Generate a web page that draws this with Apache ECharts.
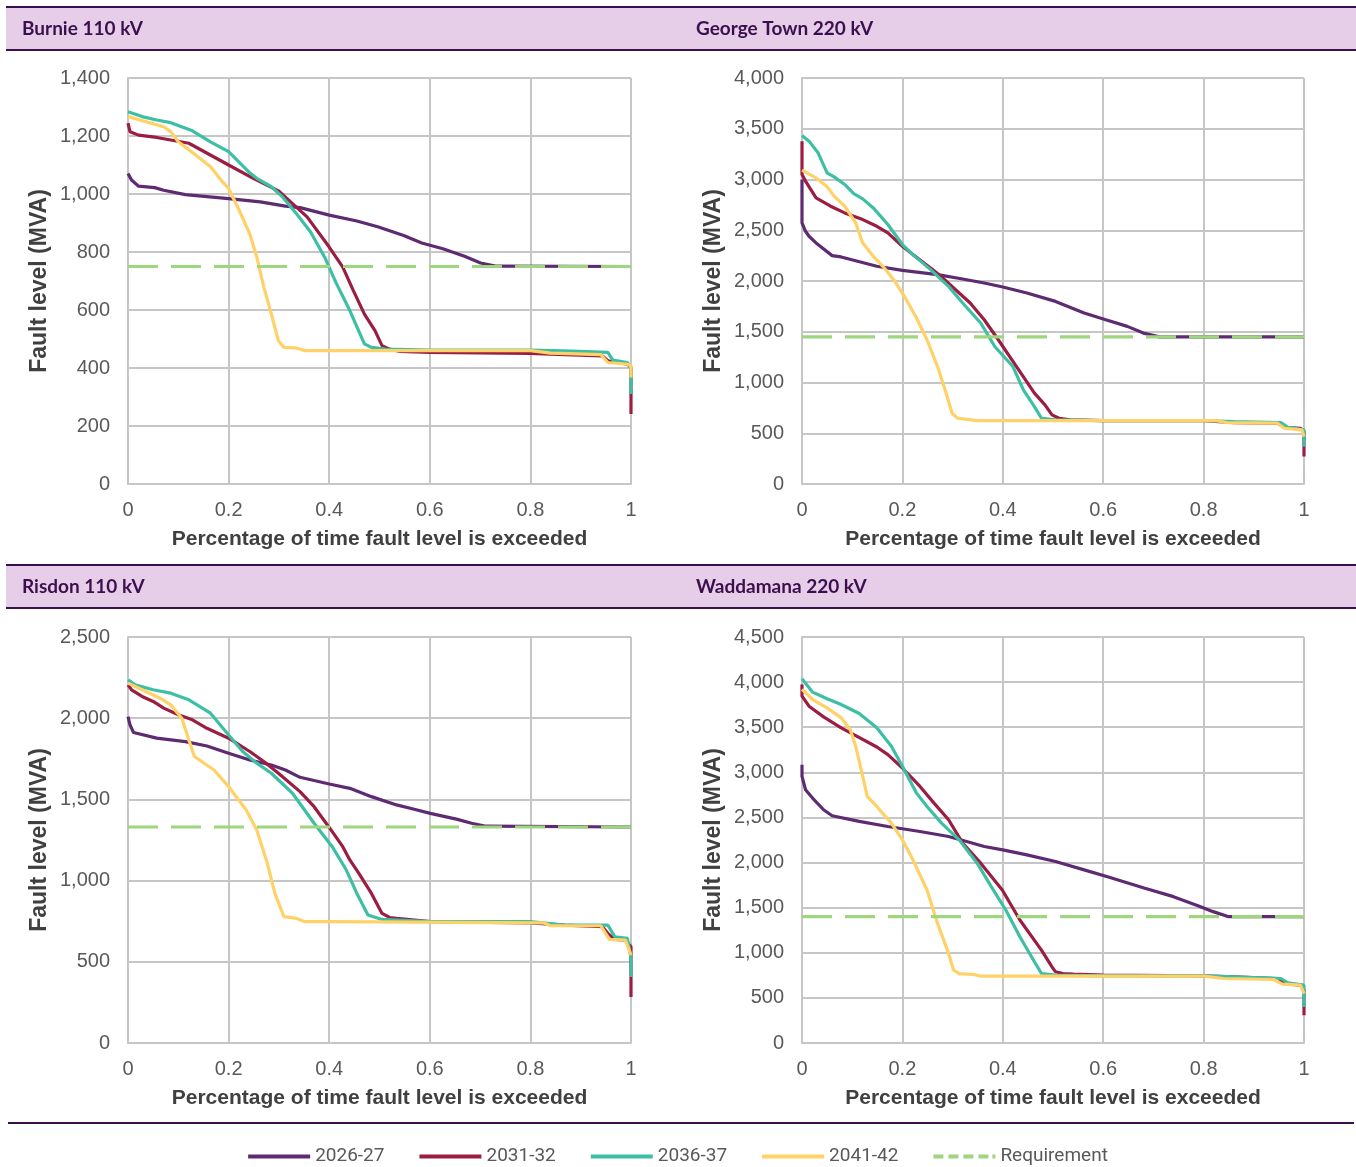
<!DOCTYPE html>
<html>
<head>
<meta charset="utf-8">
<script src="https://cdn.jsdelivr.net/npm/echarts@6/dist/echarts.min.js"></script>
<style>
  html, body { margin: 0; padding: 0; background: #fff; }
  #chart { width: 1356px; height: 1167px; }
</style>
</head>
<body>
<div id="chart"></div>
<script>
// series names
var seriesNames = ['2026-27', '2031-32', '2036-37', '2041-42', 'Requirement'];
var panelTitles = ['Burnie 110 kV', 'George Town 220 kV', 'Risdon 110 kV', 'Waddamana 220 kV'];
var yMax = [1400, 4000, 2500, 4500];
var yStep = [200, 500, 500, 500];

// Burnie 110 kV  ([fraction of time, MVA])
var burnie2026 = [[0,1071],[0.007,1048],[0.021,1027],[0.053,1022],[0.071,1013],[0.114,998],[0.2,984],[0.263,973],[0.313,958],[0.342,953],[0.4,927],[0.455,907],[0.498,886],[0.548,857],[0.584,831],[0.626,811],[0.669,785],[0.701,762],[0.733,751],[1,750]];
var burnie2031 = [[0,1244],[0.004,1215],[0.021,1203],[0.057,1195],[0.121,1175],[0.2,1100],[0.249,1054],[0.299,1011],[0.327,967],[0.356,921],[0.4,817],[0.427,748],[0.448,667],[0.47,586],[0.491,529],[0.505,477],[0.52,465],[0.541,457],[0.6,454],[0.8,450],[0.868,446],[0.943,442],[0.954,425],[0.993,413],[1,402],[1,241]];
var burnie2036 = [[0,1284],[0.028,1267],[0.057,1255],[0.085,1246],[0.128,1218],[0.164,1180],[0.2,1146],[0.242,1073],[0.256,1054],[0.285,1025],[0.306,992],[0.335,932],[0.363,869],[0.391,782],[0.413,696],[0.441,598],[0.47,483],[0.484,471],[0.512,465],[0.6,462],[0.8,462],[0.868,459],[0.954,454],[0.964,427],[0.993,419],[1,400],[1,310]];
var burnie2041 = [[0,1267],[0.028,1253],[0.071,1232],[0.085,1215],[0.1,1180],[0.135,1134],[0.164,1094],[0.185,1048],[0.2,1019],[0.221,944],[0.242,863],[0.256,783],[0.27,679],[0.285,586],[0.299,494],[0.31,471],[0.335,469],[0.352,460],[0.4,460],[0.8,460],[0.84,451],[0.94,446],[0.954,419],[0.993,413],[1,408],[1,367]];
var burnieReq = 750;

// George Town 220 kV
var george2026 = [[0,3000],[0,2572],[0.007,2490],[0.014,2441],[0.028,2375],[0.06,2250],[0.078,2237],[0.149,2145],[0.2,2105],[0.27,2063],[0.32,2020],[0.363,1980],[0.4,1941],[0.448,1882],[0.505,1799],[0.562,1684],[0.605,1618],[0.648,1553],[0.68,1487],[0.712,1450],[1,1450]];
var george2031 = [[0,3378],[0,3049],[0.007,2984],[0.028,2819],[0.057,2737],[0.085,2671],[0.121,2605],[0.149,2539],[0.171,2474],[0.2,2342],[0.221,2260],[0.256,2128],[0.277,2046],[0.306,1914],[0.335,1783],[0.363,1618],[0.391,1421],[0.427,1158],[0.463,895],[0.484,780],[0.498,681],[0.512,648],[0.534,632],[0.6,625],[0.8,625],[0.861,605],[0.947,599],[0.961,559],[0.993,549],[1,516],[1,270]];
var george2036 = [[0,3434],[0.014,3378],[0.032,3263],[0.05,3066],[0.064,3026],[0.085,2951],[0.103,2862],[0.121,2809],[0.142,2720],[0.171,2556],[0.2,2359],[0.221,2260],[0.256,2112],[0.292,1947],[0.32,1783],[0.356,1586],[0.384,1355],[0.42,1158],[0.441,928],[0.463,763],[0.477,648],[0.505,632],[0.6,625],[0.8,625],[0.861,615],[0.954,605],[0.968,559],[1,533],[1,368]];
var george2041 = [[0,3092],[0.028,3016],[0.05,2928],[0.064,2836],[0.085,2737],[0.107,2572],[0.121,2375],[0.142,2243],[0.164,2128],[0.185,1997],[0.206,1832],[0.228,1635],[0.249,1421],[0.27,1158],[0.285,928],[0.299,697],[0.31,648],[0.349,625],[0.4,625],[0.826,625],[0.847,605],[0.947,599],[0.961,549],[0.996,533],[1,467]];
var georgeReq = 1450;

// Risdon 110 kV
var risdon2026 = [[0,2010],[0.004,1959],[0.011,1912],[0.057,1877],[0.114,1856],[0.157,1829],[0.2,1784],[0.242,1743],[0.285,1712],[0.313,1681],[0.342,1636],[0.37,1616],[0.4,1595],[0.441,1568],[0.484,1517],[0.534,1466],[0.569,1439],[0.601,1414],[0.655,1377],[0.683,1353],[0.712,1335],[1,1330]];
var risdon2031 = [[0,2205],[0.007,2175],[0.028,2134],[0.05,2103],[0.071,2062],[0.1,2021],[0.128,1990],[0.157,1938],[0.2,1877],[0.242,1795],[0.27,1733],[0.299,1661],[0.342,1548],[0.37,1455],[0.399,1332],[0.427,1209],[0.441,1127],[0.459,1044],[0.484,921],[0.505,798],[0.52,773],[0.534,767],[0.601,747],[0.8,740],[0.868,726],[0.943,716],[0.954,675],[0.968,638],[0.989,634],[1,592],[1,284]];
var risdon2036 = [[0,2236],[0.014,2205],[0.05,2175],[0.085,2154],[0.121,2113],[0.164,2031],[0.2,1897],[0.228,1795],[0.256,1723],[0.285,1661],[0.327,1538],[0.37,1353],[0.406,1209],[0.434,1065],[0.455,921],[0.477,788],[0.505,761],[0.601,747],[0.8,747],[0.868,726],[0.954,726],[0.968,654],[0.993,644],[1,520],[1,407]];
var risdon2041 = [[0,2216],[0.028,2175],[0.064,2123],[0.085,2082],[0.107,2000],[0.121,1866],[0.132,1764],[0.171,1681],[0.2,1579],[0.235,1435],[0.256,1312],[0.277,1106],[0.292,921],[0.31,778],[0.335,767],[0.352,747],[0.4,747],[0.826,740],[0.84,722],[0.94,722],[0.957,638],[0.989,634],[1,541]];
var risdonReq = 1330;

// Waddamana 220 kV
var wadda2026 = [[0,3085],[0,2956],[0.007,2807],[0.021,2715],[0.043,2585],[0.06,2519],[0.114,2456],[0.171,2400],[0.235,2344],[0.292,2289],[0.335,2222],[0.363,2178],[0.4,2141],[0.448,2085],[0.505,2011],[0.562,1919],[0.612,1837],[0.683,1715],[0.74,1622],[0.79,1519],[0.819,1456],[0.85,1400],[1,1400]];
var wadda2031 = [[0,3974],[0,3844],[0.014,3733],[0.043,3615],[0.078,3493],[0.107,3407],[0.149,3281],[0.171,3196],[0.2,3048],[0.235,2844],[0.263,2659],[0.292,2474],[0.32,2215],[0.356,1993],[0.399,1696],[0.434,1363],[0.477,1030],[0.498,844],[0.505,789],[0.52,770],[0.541,763],[0.6,752],[0.8,745],[0.861,733],[0.947,715],[0.961,659],[0.993,641],[1,585],[1,307]];
var wadda2036 = [[0,4037],[0.021,3889],[0.05,3815],[0.078,3752],[0.114,3652],[0.149,3493],[0.178,3289],[0.2,3067],[0.228,2770],[0.249,2622],[0.278,2437],[0.313,2252],[0.349,1993],[0.377,1733],[0.406,1474],[0.434,1178],[0.463,900],[0.477,770],[0.505,752],[0.6,745],[0.8,745],[0.861,733],[0.954,715],[0.968,667],[1,641],[1,400]];
var wadda2041 = [[0,3919],[0.021,3807],[0.05,3715],[0.078,3604],[0.096,3474],[0.107,3289],[0.121,2956],[0.13,2733],[0.149,2622],[0.178,2437],[0.2,2252],[0.221,2030],[0.249,1696],[0.27,1326],[0.292,993],[0.302,807],[0.313,770],[0.342,759],[0.356,741],[0.4,741],[0.8,741],[0.84,715],[0.94,704],[0.957,652],[0.993,641],[1,548]];
var waddaReq = 1400;

var panelData = [
  [burnie2026, burnie2031, burnie2036, burnie2041, burnieReq],
  [george2026, george2031, george2036, george2041, georgeReq],
  [risdon2026, risdon2031, risdon2036, risdon2041, risdonReq],
  [wadda2026, wadda2031, wadda2036, wadda2041, waddaReq]
];

var colors = ['#5E2B72', '#9B1D42', '#3DBFA5', '#FFD167', '#9DD67D'];
var gridColor = '#C6C6C6';
var headColor = '#3B0F4E';

var grids = [
  {left: 128, top: 78, width: 503, height: 406},
  {left: 802, top: 78, width: 502, height: 406},
  {left: 128, top: 637, width: 503, height: 406},
  {left: 802, top: 637, width: 502, height: 406}
];

var xAxes = [], yAxes = [], series = [];
grids.forEach(function (g, i) {
  xAxes.push({
    type: 'value', gridIndex: i, min: 0, max: 1, interval: 0.2,
    name: 'Percentage of time fault level is exceeded',
    nameLocation: 'middle', nameGap: 45,
    nameTextStyle: {fontFamily: 'Liberation Sans', fontSize: 21, fontWeight: 'bold', color: '#404040'},
    axisLine: {show: true, lineStyle: {color: gridColor, width: 2}},
    axisTick: {show: false},
    axisLabel: {fontFamily: 'Liberation Sans', fontSize: 20, color: '#595959', margin: 16},
    splitLine: {show: true, lineStyle: {color: gridColor, width: 2}}
  });
  yAxes.push({
    type: 'value', gridIndex: i, min: 0, max: yMax[i], interval: yStep[i],
    name: 'Fault level (MVA)',
    nameLocation: 'middle', nameGap: 77,
    nameTextStyle: {fontFamily: 'Liberation Sans', fontSize: 23, fontWeight: 'bold', color: '#404040'},
    axisLine: {show: true, lineStyle: {color: gridColor, width: 2}},
    axisTick: {show: false},
    axisLabel: {
      fontFamily: 'Liberation Sans', fontSize: 20, color: '#595959', margin: 18,
      formatter: function (v) { return v.toLocaleString('en-US'); }
    },
    splitLine: {show: true, lineStyle: {color: gridColor, width: 2}}
  });
  var d = panelData[i];
  for (var k = 0; k < 4; k++) {
    series.push({
      name: seriesNames[k], type: 'line', xAxisIndex: i, yAxisIndex: i,
      data: d[k], symbol: 'none', clip: false, silent: true,
      lineStyle: {color: colors[k], width: 3.2},
      itemStyle: {color: colors[k]}
    });
  }
  series.push({
    name: 'Requirement', type: 'line', xAxisIndex: i, yAxisIndex: i,
    data: [[0, d[4]], [1, d[4]]], symbol: 'none', clip: false, silent: true,
    lineStyle: {color: colors[4], width: 3.2, type: [30, 13]},
    itemStyle: {color: colors[4]}
  });
});

function headerBar(top) {
  return [
    {type: 'rect', shape: {x: 6, y: top, width: 1350, height: 43}, style: {fill: '#E6CDE8'}, silent: true},
    {type: 'rect', shape: {x: 6, y: top - 1, width: 1350, height: 2}, style: {fill: headColor}, silent: true},
    {type: 'rect', shape: {x: 6, y: top + 42, width: 1350, height: 2}, style: {fill: headColor}, silent: true}
  ];
}
var titleStyle = {fontFamily: 'Lato', fontSize: 19, fontWeight: 'bold', fill: headColor};
var graphics = [].concat(headerBar(7), headerBar(565), [
  {type: 'text', left: 22, top: 19, style: Object.assign({text: panelTitles[0]}, titleStyle), silent: true},
  {type: 'text', left: 696, top: 19, style: Object.assign({text: panelTitles[1]}, titleStyle), silent: true},
  {type: 'text', left: 22, top: 577, style: Object.assign({text: panelTitles[2]}, titleStyle), silent: true},
  {type: 'text', left: 696, top: 577, style: Object.assign({text: panelTitles[3]}, titleStyle), silent: true},
  {type: 'rect', shape: {x: 8, y: 1122, width: 1346, height: 2}, style: {fill: headColor}, silent: true}
]);

var solidIcon = 'path://M0,0H62V4H0Z';
var dashIcon = 'path://M0,0H10V4H0Z M15,0H25V4H15Z M30,0H40V4H30Z M45,0H55V4H45Z M59,0H62V4H59Z';

var chart = echarts.init(document.getElementById('chart'));
chart.setOption({
  animation: false,
  grid: grids,
  xAxis: xAxes,
  yAxis: yAxes,
  legend: {
    data: seriesNames.map(function (n, k) {
      return {name: n, icon: k < 4 ? solidIcon : dashIcon, itemStyle: {color: colors[k]}};
    }),
    top: 1142, left: 'center',
    itemWidth: 62, itemHeight: 4, itemGap: 35,
    textStyle: {fontFamily: 'Roboto', fontSize: 19, color: '#595959'},
    selectedMode: false
  },
  graphic: graphics,
  series: series
});
</script>
</body>
</html>
